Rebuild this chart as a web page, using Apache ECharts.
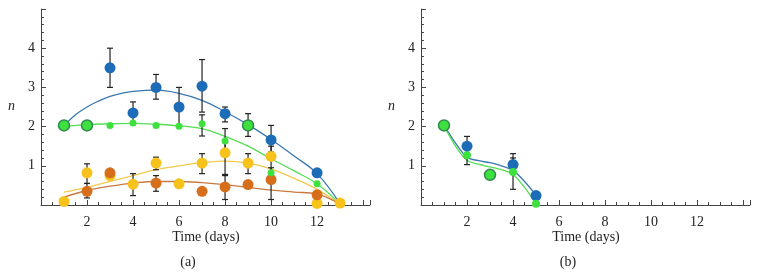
<!DOCTYPE html>
<html>
<head>
<meta charset="utf-8">
<script src="https://cdn.jsdelivr.net/npm/echarts@6/dist/echarts.min.js"></script>
<style>
  html, body { margin: 0; padding: 0; background: #fff; }
  #chart { width: 760px; height: 275px; }
</style>
</head>
<body>
<div id="chart"></div>
<script>
// ---- panel (a) measured points ----
const aBlueDays = [3, 4, 5, 6, 7, 8, 10, 12];
const aBlue = [3.5, 2.35, 3.0, 2.5, 3.03, 2.33, 1.66, 0.82];
const aGreenDays = [3, 4, 5, 6, 7, 8, 10, 12];
const aGreen = [2.03, 2.09, 2.03, 2.01, 2.07, 1.63, 0.82, 0.54];
// blue and green on the same spot
const aBothDays = [1, 2, 9];
const aBoth = [2.03, 2.03, 2.03];
const aYellowDays = [1, 2, 3, 4, 5, 6, 7, 8, 9, 10, 12, 13];
const aYellow = [0.09, 0.82, 0.75, 0.53, 1.07, 0.54, 1.07, 1.33, 1.07, 1.24, 0.04, 0.05];
const aOrangeDays = [2, 3, 5, 7, 8, 9, 10, 12];
const aOrange = [0.35, 0.82, 0.56, 0.35, 0.46, 0.52, 0.65, 0.26];

// error bars: [day, low, high]
const aBlueErr = [[3, 3.0, 4.0], [4, 2.07, 2.63], [5, 2.7, 3.33], [6, 2.0, 3.0], [7, 2.37, 3.71], [8, 2.12, 2.5], [9, 1.75, 2.33], [10, 1.35, 2.03]];
const aGreenErr = [[7, 1.76, 2.3], [8, 1.3, 1.95]];
const aYellowErr = [[2, 0.55, 1.05], [4, 0.24, 0.8], [5, 0.9, 1.22], [7, 0.8, 1.31], [8, 0.78, 1.6], [9, 0.8, 1.31], [10, 0.85, 1.5]];
const aOrangeErr = [[2, 0.18, 0.55], [5, 0.35, 0.75], [8, 0.14, 0.75], [10, 0.14, 0.95]];

// fitted curves
const aBlueFitDays = [1, 1.5, 2, 2.5, 3, 3.5, 4, 5, 6, 7, 8, 9, 10, 11, 12, 13];
const aBlueFit = [2.02, 2.3, 2.5, 2.65, 2.77, 2.85, 2.9, 2.93, 2.85, 2.67, 2.38, 2.05, 1.67, 1.25, 0.8, 0.03];
const aFitDays = [1, 2, 3, 4, 5, 6, 7, 8, 9, 10, 11, 12, 13];
const aGreenFit = [2.0, 2.05, 2.07, 2.08, 2.06, 2.02, 1.95, 1.75, 1.5, 1.18, 0.87, 0.54, 0.02];
const aYellowFit = [0.33, 0.45, 0.6, 0.75, 0.9, 1.0, 1.08, 1.12, 1.07, 0.92, 0.68, 0.4, 0.02];
const aOrangeFit = [0.2, 0.37, 0.48, 0.56, 0.6, 0.6, 0.57, 0.52, 0.45, 0.38, 0.33, 0.28, 0.02];

// ---- panel (b) ----
const bBlueDays = [2, 4, 5];
const bBlue = [1.5, 1.03, 0.24];
const bGreenDays = [2, 4, 5];
const bGreen = [1.27, 0.84, 0.03];
const bBothDays = [1, 3];
const bBoth = [2.03, 0.77];
const bBlueErr = [[2, 1.2, 1.75], [4, 0.8, 1.31]];
const bGreenErr = [[2, 1.03, 1.45], [4, 0.4, 1.2]];
const bFitDays = [1, 1.25, 1.5, 2, 2.5, 3, 3.5, 4, 4.5, 5];
const bBlueFit = [2.02, 1.8, 1.58, 1.22, 1.13, 1.08, 1.0, 0.88, 0.6, 0.25];
const bGreenFit = [2.0, 1.75, 1.5, 1.14, 1.04, 0.97, 0.9, 0.78, 0.45, 0.03];

const xTicks = [2, 4, 6, 8, 10, 12];
const yTicks = [1, 2, 3, 4];

const BLUE = '#1d6cb8', BLUE_L = '#3a78b0';
const GREEN = '#3de03d', GREEN_L = '#55dd55';
const YELLOW = '#f7c21c', YELLOW_L = '#f3c94e';
const ORANGE = '#d76e1c', ORANGE_L = '#c87a42';
const FONT = 'Liberation Serif';

let zip = (xs, ys) => xs.map((x, i) => [x, ys[i]]);

function renderErr(params, api) {
    const x = api.value(0);
    const lo = api.coord([x, api.value(1)]);
    const hi = api.coord([x, api.value(2)]);
    const w = 3;
    const st = { stroke: '#222', lineWidth: 1.2 };
    return {
        type: 'group',
        children: [
            { type: 'line', shape: { x1: lo[0], y1: lo[1], x2: hi[0], y2: hi[1] }, style: st },
            { type: 'line', shape: { x1: lo[0] - w, y1: lo[1], x2: lo[0] + w, y2: lo[1] }, style: st },
            { type: 'line', shape: { x1: hi[0] - w, y1: hi[1], x2: hi[0] + w, y2: hi[1] }, style: st }
        ]
    };
}

function xAxisOf(i) {
    return {
        gridIndex: i, type: 'value', min: 0, max: 14.3, interval: 2,
        axisLine: { show: true, onZero: false, lineStyle: { color: '#444', width: 1 } },
        axisTick: { show: true, inside: true, length: 5, lineStyle: { color: '#444' } },
        minorTick: { show: true, splitNumber: 4, length: 3, lineStyle: { color: '#444' } },
        splitLine: { show: false },
        axisLabel: {
            color: '#222', fontFamily: FONT, fontSize: 14, margin: 10,
            showMaxLabel: false,
            formatter: v => (xTicks.indexOf(v) >= 0 ? String(v) : '')
        }
    };
}
function yAxisOf(i) {
    return {
        gridIndex: i, type: 'value', min: 0, max: 5, interval: 1,
        axisLine: { show: true, onZero: false, lineStyle: { color: '#444', width: 1 } },
        axisTick: { show: true, inside: true, length: 5, lineStyle: { color: '#444' } },
        minorTick: { show: true, splitNumber: 5, length: 3, lineStyle: { color: '#444' } },
        splitLine: { show: false },
        axisLabel: {
            color: '#222', fontFamily: FONT, fontSize: 14, margin: 6,
            formatter: v => (yTicks.indexOf(v) >= 0 ? String(v) : '')
        }
    };
}

function fit(i, xs, ys, color, z) {
    return { type: 'line', xAxisIndex: i, yAxisIndex: i, data: zip(xs, ys), smooth: 0.4,
        showSymbol: false, silent: true, lineStyle: { color: color, width: 1.3 }, z: z };
}
function pts(i, xs, ys, color, size, z, border) {
    return { type: 'scatter', xAxisIndex: i, yAxisIndex: i, data: zip(xs, ys), symbolSize: size,
        itemStyle: { color: color, opacity: 1, borderColor: border || color, borderWidth: border ? 1.5 : 0 }, z: z };
}
function errs(i, data) {
    return { type: 'custom', xAxisIndex: i, yAxisIndex: i, data: data, renderItem: renderErr,
        encode: { x: 0, y: [1, 2] }, z: 3 };
}

let chart = echarts.init(document.getElementById('chart'), null, { renderer: 'canvas' });
chart.setOption({
    animation: false,
    backgroundColor: '#fff',
    grid: [
        { left: 41, top: 9, width: 329, height: 196 },
        { left: 421, top: 9, width: 329, height: 196 }
    ],
    xAxis: [xAxisOf(0), xAxisOf(1)],
    yAxis: [yAxisOf(0), yAxisOf(1)],
    graphic: [
        { type: 'text', left: 8, top: 99, style: { text: 'n', font: 'italic 14px "Liberation Serif"', fill: '#222' } },
        { type: 'text', left: 388, top: 99, style: { text: 'n', font: 'italic 14px "Liberation Serif"', fill: '#222' } },
        { type: 'text', x: 206, y: 237, style: { text: 'Time (days)', font: '14px "Liberation Serif"', fill: '#222', align: 'center', verticalAlign: 'middle' } },
        { type: 'text', x: 586, y: 237, style: { text: 'Time (days)', font: '14px "Liberation Serif"', fill: '#222', align: 'center', verticalAlign: 'middle' } },
        { type: 'text', x: 188, y: 262, style: { text: '(a)', font: '14px "Liberation Serif"', fill: '#222', align: 'center', verticalAlign: 'middle' } },
        { type: 'text', x: 568, y: 262, style: { text: '(b)', font: '14px "Liberation Serif"', fill: '#222', align: 'center', verticalAlign: 'middle' } }
    ],
    series: [
        // panel (a)
        fit(0, aBlueFitDays, aBlueFit, BLUE_L, 2),
        fit(0, aFitDays, aGreenFit, GREEN_L, 2),
        fit(0, aFitDays, aYellowFit, YELLOW_L, 2),
        fit(0, aFitDays, aOrangeFit, ORANGE_L, 2),
        errs(0, aBlueErr), errs(0, aGreenErr), errs(0, aYellowErr), errs(0, aOrangeErr),
        pts(0, aYellowDays, aYellow, YELLOW, 11, 4),
        pts(0, aOrangeDays, aOrange, ORANGE, 11, 5),
        pts(0, aBlueDays, aBlue, BLUE, 11, 6),
        pts(0, aBothDays, aBoth, GREEN, 11, 7, '#2f8a4f'),
        pts(0, aGreenDays, aGreen, GREEN, 7, 8),
        // panel (b)
        fit(1, bFitDays, bBlueFit, BLUE_L, 2),
        fit(1, bFitDays, bGreenFit, GREEN_L, 2),
        errs(1, bBlueErr), errs(1, bGreenErr),
        pts(1, bBlueDays, bBlue, BLUE, 11, 6),
        pts(1, bBothDays, bBoth, GREEN, 11, 7, '#2f8a4f'),
        pts(1, bGreenDays, bGreen, GREEN, 8, 8)
    ]
});
</script>
</body>
</html>
